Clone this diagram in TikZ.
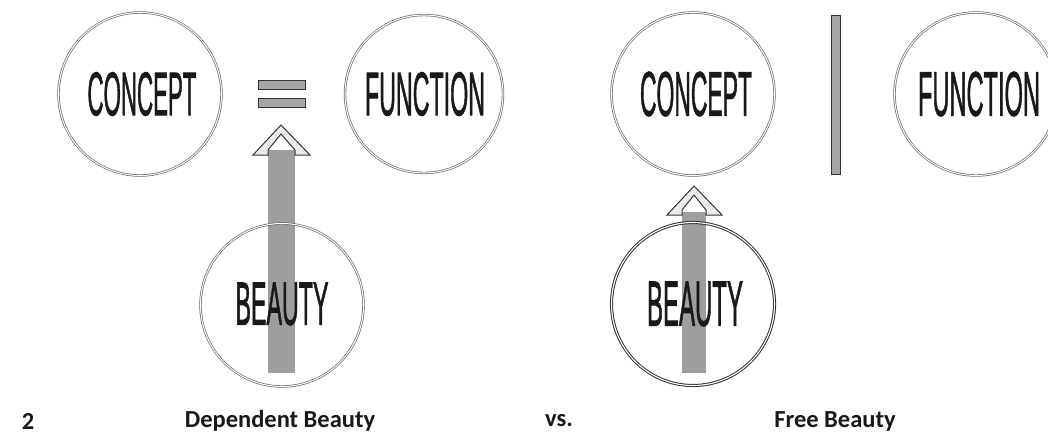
\documentclass[tikz,border=0pt]{standalone}
\usepackage{fontspec}
\setmainfont{Carlito}
\newfontfamily\condfont[FakeBold=1.6]{Liberation Sans}
\tikzset{
  ring/.style={circle, draw=black!58, line width=0.7pt, double=white, double distance=1pt, minimum size=#1, inner sep=0pt},
  ringdark/.style={ring=#1, draw=black!80, line width=1pt, double distance=1.1pt},
  word/.style={inner sep=0pt, text=black!90},
  shaft/.style={fill=black!38, draw=none},
  headshape/.style={draw=black!80, line width=1pt, fill=black!8, line join=miter},
  eqbar/.style={draw=black!80, line width=1pt, fill=black!35},
  caption/.style={inner sep=0pt, font=\fontsize{24.5}{28}\selectfont\bfseries, text=black!90}
}
\newcommand{\cw}[3]{\resizebox{#1pt}{#2pt}{\condfont #3}}
\begin{document}
\begin{tikzpicture}[x=1pt,y=-1pt]
\useasboundingbox (0,0) rectangle (1048,439);
\fill[white] (0,0) rectangle (1048,439);

% ---------- left: dependent beauty ----------
\coordinate (s1top) at (268,150);
\coordinate (s1bot) at (295,373);
\fill[shaft] (s1top) rectangle (s1bot);
\coordinate (tipA) at (281,125);
\draw[headshape] (253,155) -- (tipA) -- (310,155) -- (295,155) -- (295,150) -- (281,134) -- (268,150) -- (268,155) -- cycle;

\node[ring=163pt] (concL) at (140,94) {};
\node[word] (concLt) at (142,94) {\cw{109}{43}{CONCEPT}};
\node[ring=158pt] (funcL) at (424,94) {};
\node[word] (funcLt) at (425,94) {\cw{120}{43}{FUNCTION}};
\node[eqbar, minimum width=47pt, minimum height=9pt, inner sep=0pt] (eq1) at (281.5,85) {};
\node[eqbar, minimum width=47pt, minimum height=9pt, inner sep=0pt] (eq2) at (281.5,103) {};

\node[ring=163pt] (beauL) at (282,305) {};
\node[word] (beauLt) at (282,304) {\cw{93}{42}{BEAUTY}};

% ---------- right: free beauty ----------
\coordinate (s2top) at (682,212);
\coordinate (s2bot) at (706,373);
\fill[shaft] (s2top) rectangle (s2bot);
\coordinate (tipB) at (694,186);
\draw[headshape] (667,215) -- (tipB) -- (722,215) -- (706,215) -- (706,210) -- (694,195) -- (682,210) -- (682,215) -- cycle;

\node[ring=163pt] (concR) at (693,94) {};
\node[word] (concRt) at (696,94) {\cw{112}{44}{CONCEPT}};
\node[eqbar, minimum width=9pt, minimum height=159pt, inner sep=0pt] (sep) at (835.5,95) {};
\node[ring=163pt] (funcR) at (976,94) {};
\node[word] (funcRt) at (979,94) {\cw{122}{44}{FUNCTION}};

\node[ringdark=163pt] (beauR) at (693,304) {};
\node[word] (beauRt) at (695,304) {\cw{96}{44}{BEAUTY}};

% ---------- captions ----------
\node[caption] (num) at (28,421) {2};
\node[caption] (dep) at (280,421) {Dependent Beauty};
\node[caption] (vs) at (559,421) {vs.};
\node[caption] (free) at (835,421) {Free Beauty};
\end{tikzpicture}
\end{document}
